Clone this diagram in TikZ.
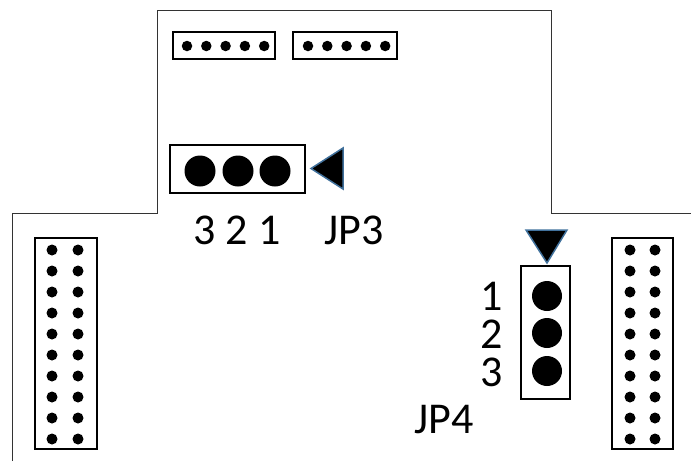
\documentclass[tikz,border=0pt]{standalone}
\usepackage{fontspec}
\setmainfont{Carlito}
\usetikzlibrary{positioning}
\definecolor{markerblue}{RGB}{65,113,156}
\tikzset{
x=1pt, y=-1pt, % pixel-like coordinates, y grows downwards
board/.style={draw=black!80, line width=1pt}, % the board outline
header/.style={draw, line width=2pt, inner sep=0pt}, % sets the properties for each connector body
pin/.style={circle, fill=black, inner sep=0pt, minimum size=11pt},
bigpin/.style={circle, fill=black, inner sep=0pt, minimum size=31pt},
marker/.style={fill=black, draw=markerblue, line width=1.5pt}, % pin 1 marks
pinlabel/.style={inner sep=0pt, anchor=base, font=\fontsize{44}{50}\selectfont},
}

\begin{document}
\begin{tikzpicture}
\useasboundingbox (0,0) rectangle (691,461);
\draw[board] (12,461) -- (12,213.5) -- (157.5,213.5) -- (157.5,10)
  -- (551,10) -- (551,213) -- (691,213);
% small headers on top
\node[header, minimum width=102pt, minimum height=27pt] (top1) at (224,45.5) {};
\node[header, minimum width=104pt, minimum height=27pt] (top2) at (345,45.5) {};
\foreach \k in {0,...,4} {
  \node[pin, minimum size=10.5pt] (t1-\k) at ({187+19.3*\k},46) {};
  \node[pin, minimum size=10.5pt] (t2-\k) at ({308+19.3*\k},46) {};
}
% the two long headers
\node[header, minimum width=62pt, minimum height=211pt] (left) at (66,343.5) {};
\node[header, minimum width=61pt, minimum height=211pt] (right) at (642.5,343.5) {};
\foreach \r in {0,...,9} {
  \node[pin] (L-\r-a) at (52,{250+21*\r}) {};
  \node[pin] (L-\r-b) at (78,{250+21*\r}) {};
  \node[pin] (R-\r-a) at (630,{250+21*\r}) {};
  \node[pin] (R-\r-b) at (655,{250+21*\r}) {};
}
% JP3
\node[header, minimum width=135pt, minimum height=48pt] (jp3) at (237.5,169) {};
\node[bigpin] (jp3-3) at (200,171) {};
\node[bigpin] (jp3-2) at (238,171) {};
\node[bigpin] (jp3-1) at (275,171) {};
\draw[marker] (311,168.5) -- (343,148) -- (343,189) -- cycle;
\node[pinlabel] (jp3-nums) at (237,244) {3 2 1};
\node[pinlabel] (jp3-name) at (354,244) {JP3};
% JP4
\node[header, minimum width=49pt, minimum height=133pt] (jp4) at (545.5,332.5) {};
\node[bigpin, minimum size=30pt] (jp4-1) at (547,296) {};
\node[bigpin, minimum size=30pt] (jp4-2) at (547,333) {};
\node[bigpin, minimum size=30pt] (jp4-3) at (547,371) {};
\draw[marker] (526,230) -- (567,230) -- (547,263) -- cycle;
\node[pinlabel, anchor=north, align=center, font=\fontsize{44}{38}\selectfont] (jp4-nums) at (492,281.5) {1\\2\\3};
\node[pinlabel] (jp4-name) at (444,433) {JP4};
\end{tikzpicture}
\end{document}
